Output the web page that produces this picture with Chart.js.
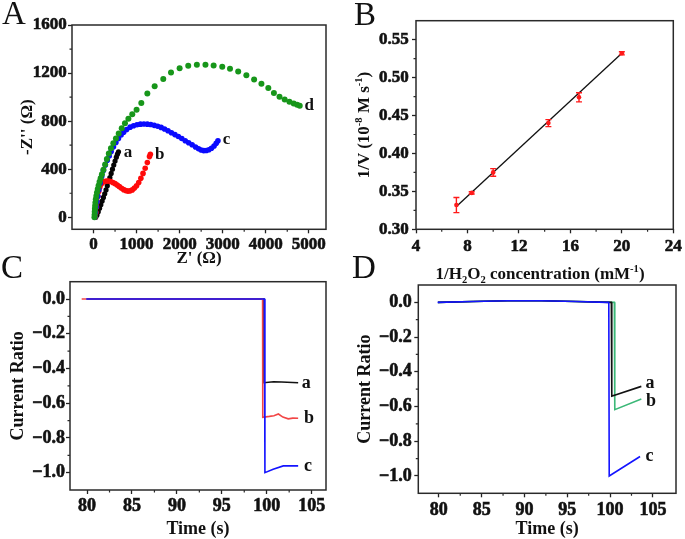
<!DOCTYPE html>
<html>
<head>
<meta charset="utf-8">
<script src="https://cdn.jsdelivr.net/npm/chart.js@4.4.1/dist/chart.umd.min.js"></script>
<style>
  body { margin: 0; background: #fff; }
  #page { position: relative; width: 685px; height: 539px; overflow: hidden; font-family: "Liberation Serif", "Times New Roman", serif; color: #111; }
  .box { position: absolute; }
  .letter { position: absolute; font-size: 33px; line-height: 1; font-weight: normal; }
  .ttl { position: absolute; font-size: 17px; font-weight: bold; line-height: 1; white-space: nowrap; transform: translate(-50%, -50%); }
  .ttl sup, .ttl sub { font-size: 0.62em; line-height: 0; }
  .rot { transform: translate(-50%, -50%) rotate(-90deg); }
</style>
</head>
<body>
<div id="page">
  <div class="box" style="left:0;top:0"><canvas id="chartA" width="340" height="270"></canvas></div>
  <div class="box" style="left:340px;top:0"><canvas id="chartB" width="345" height="262"></canvas></div>
  <div class="box" style="left:0;top:262px"><canvas id="chartC" width="340" height="277"></canvas></div>
  <div class="box" style="left:340px;top:262px"><canvas id="chartD" width="345" height="277"></canvas></div>

  <div class="letter" style="left:2px;top:-3px">A</div>
  <div class="letter" style="left:354px;top:-2px">B</div>
  <div class="letter" style="left:1px;top:251px">C</div>
  <div class="letter" style="left:352px;top:251px">D</div>

  <div class="ttl rot" style="left:363px;top:125px">1/V (10<sup>-8</sup> M s<sup>-1</sup>)</div>
  <div class="ttl" style="left:540px;top:273px">1/H<sub>2</sub>O<sub>2</sub> concentration (mM<sup>-1</sup>)</div>
</div>

<script>
// ==== Panel A: Nyquist plots ====
const A_X_TICKS = [0, 1000, 2000, 3000, 4000, 5000];
const A_Y_TICKS = [0, 400, 800, 1200, 1600];
const A_X_MINOR = [500, 1500, 2500, 3500, 4500];
const A_Y_MINOR = [200, 600, 1000, 1400];

const A_a_X = [50, 80, 110, 140, 170, 200, 230, 260, 290, 320, 350, 380, 410, 440, 470, 500, 530, 555, 580];
const A_a_Y = [0, 20, 45, 75, 105, 135, 165, 195, 228, 262, 296, 330, 365, 400, 435, 468, 500, 525, 545];

const A_b_X = [40, 55, 70, 85, 100, 120, 145, 175, 210, 250, 300, 350, 400, 450, 500, 550, 600, 650, 700, 750,
               800, 850, 900, 950, 1000, 1050, 1100, 1150, 1200, 1250, 1300, 1320];
const A_b_Y = [0, 40, 85, 130, 175, 215, 250, 275, 290, 298, 302, 302, 298, 290, 280, 268, 255, 242, 230, 222,
               218, 220, 228, 243, 262, 290, 325, 365, 408, 455, 505, 525];

const A_c_X = [30, 45, 60, 80, 100, 125, 155, 190, 230, 275, 320, 365, 410, 463, 520, 579, 640, 700, 770, 850,
               930, 1010, 1090, 1170, 1250, 1330, 1410, 1490, 1570, 1650, 1730, 1810, 1890, 1970, 2050, 2130,
               2210, 2290, 2370, 2440, 2500, 2560, 2620, 2680, 2740, 2800, 2850, 2890];
const A_c_Y = [0, 40, 85, 130, 175, 230, 285, 340, 390, 435, 475, 510, 548, 586, 622, 656, 685, 708, 730, 750,
               762, 770, 775, 776, 775, 772, 765, 757, 748, 735, 720, 703, 688, 672, 655, 637,
               620, 603, 585, 570, 560, 555, 556, 562, 575, 593, 615, 637];

const A_d_X = [22, 25, 28, 32, 37, 44, 53, 65, 80, 98, 118, 140, 165, 195, 230, 270, 310, 355, 405, 460,
               520, 585, 655, 730, 810, 900, 1000, 1110, 1250, 1420, 1620, 1800, 2000, 2200, 2400, 2600,
               2790, 2990, 3170, 3360, 3550, 3730, 3900, 4060, 4190, 4320, 4440, 4550, 4650, 4730, 4790];
const A_d_Y = [0, 22, 45, 70, 95, 122, 150, 178, 207, 236, 265, 295, 325, 358, 395, 440, 485, 530, 575, 615,
               655, 698, 740, 782, 820, 858, 895, 950, 1030, 1090, 1150, 1205, 1240, 1260, 1270, 1270,
               1263, 1252, 1236, 1213, 1181, 1147, 1111, 1075, 1035, 1003, 980, 962, 947, 936, 928];

// ==== Panel B: Lineweaver-Burk ====
const B_X_TICKS = [4, 8, 12, 16, 20, 24];
const B_Y_TICKS = [0.30, 0.35, 0.40, 0.45, 0.50, 0.55];
const B_X_MINOR = [6, 10, 14, 18, 22];
const B_Y_MINOR = [0.325, 0.375, 0.425, 0.475, 0.525];
const B_X = [7.14, 8.33, 10.0, 14.29, 16.67, 20.0];
const B_Y = [0.332, 0.348, 0.375, 0.440, 0.474, 0.532];
const B_ERR = [0.010, 0.0015, 0.005, 0.0046, 0.006, 0.002];
const B_FIT_X = [7.14, 20.0];
const B_FIT_Y = [0.330, 0.532];

// ==== Panels C, D: current ratio vs time ====
const T_X_TICKS = [80, 85, 90, 95, 100, 105];
const T_Y_TICKS = [0.0, -0.2, -0.4, -0.6, -0.8, -1.0];
const T_X_MINOR = [82.5, 87.5, 92.5, 97.5, 102.5];
const T_Y_MINOR = [-0.1, -0.3, -0.5, -0.7, -0.9];

const C_a_X = [80, 99.69, 99.7, 100.76, 101.66, 103.5];
const C_a_Y = [0, 0, -0.482, -0.476, -0.478, -0.482];
const C_b_X = [79.4, 99.54, 99.56, 100.3, 100.8, 101.3, 101.8, 102.4, 102.9, 103.5];
const C_b_Y = [0, 0, -0.681, -0.676, -0.672, -0.662, -0.68, -0.69, -0.686, -0.687];
const C_c_X = [79.9, 99.75, 99.8, 100.72, 101.84, 103.5];
const C_c_Y = [0, 0, -1.0, -0.98, -0.961, -0.961];

const D_a_X = [79.9, 84, 88, 92, 96, 100.15, 100.2, 100.7, 103.65];
const D_a_Y = [0, 0.005, 0.009, 0.009, 0.005, 0, -0.54, -0.532, -0.484];
const D_b_X = [79.9, 84, 88, 92, 96, 100.5, 100.55, 103.65];
const D_b_Y = [0, 0.005, 0.009, 0.009, 0.005, 0, -0.618, -0.557];
const D_c_X = [79.85, 84, 88, 92, 96, 99.6, 99.85, 99.9, 103.5];
const D_c_Y = [0, 0.005, 0.009, 0.009, 0.005, 0, 0, -1.0, -0.888];

const SERIF = '"Liberation Serif", "Times New Roman", serif';
Chart.defaults.font.family = SERIF;
Chart.defaults.font.weight = "bold";
Chart.defaults.color = "#111";
Chart.defaults.animation = false;

function toXY(xs, ys) {
  return xs.map((x, i) => ({ x: x, y: ys[i] }));
}

function minus(v, digits) {
  const s = Math.abs(v).toFixed(digits);
  return v < -1e-9 ? "\u2212" + s : s;
}

// linear axis with fixed ticks and fixed box size
function axis(o) {
  return {
    type: "linear",
    min: o.min,
    max: o.max,
    afterBuildTicks: s => { s.ticks = o.ticks.map(v => ({ value: v })); },
    afterFit: s => { if (s.isHorizontal()) s.height = o.size; else s.width = o.size; },
    grid: { display: true, drawOnChartArea: false, drawTicks: true, tickLength: 4, tickColor: "#222", tickWidth: 1.3 },
    border: { display: false },
    ticks: {
      padding: o.pad,
      autoSkip: false,
      maxRotation: 0,
      font: { size: o.font, weight: "bold" },
      color: "#111",
      textStrokeColor: "#111",
      textStrokeWidth: 0.6,
      callback: o.fmt || (v => String(v))
    },
    title: o.title
      ? { display: true, text: o.title, color: "#111", font: { size: o.titleSize, weight: "bold" }, padding: o.titlePad }
      : { display: false }
  };
}

// frame, minor ticks, curve labels, error bars
function deco(cfg) {
  return {
    id: "deco",
    afterDatasetsDraw(chart) {
      if (!cfg.errors) return;
      const { ctx, scales: { x, y } } = chart;
      ctx.save();
      ctx.strokeStyle = cfg.errors.color;
      ctx.lineWidth = 1.4;
      cfg.errors.xs.forEach((xv, i) => {
        const px = x.getPixelForValue(xv);
        const y1 = y.getPixelForValue(cfg.errors.ys[i] - cfg.errors.err[i]);
        const y2 = y.getPixelForValue(cfg.errors.ys[i] + cfg.errors.err[i]);
        ctx.beginPath();
        ctx.moveTo(px, y1); ctx.lineTo(px, y2);
        ctx.moveTo(px - 3, y1); ctx.lineTo(px + 3, y1);
        ctx.moveTo(px - 3, y2); ctx.lineTo(px + 3, y2);
        ctx.stroke();
      });
      ctx.restore();
    },
    afterDraw(chart) {
      const { ctx, chartArea: ca, scales: { x, y } } = chart;
      ctx.save();
      ctx.strokeStyle = "#2a2a2a";
      ctx.lineWidth = 1.5;
      ctx.strokeRect(ca.left, ca.top, ca.right - ca.left, ca.bottom - ca.top);
      ctx.lineWidth = 1.2;
      ctx.beginPath();
      (cfg.minorX || []).forEach(v => {
        const px = x.getPixelForValue(v);
        ctx.moveTo(px, ca.bottom); ctx.lineTo(px, ca.bottom + 2.5);
      });
      (cfg.minorY || []).forEach(v => {
        const py = y.getPixelForValue(v);
        ctx.moveTo(ca.left, py); ctx.lineTo(ca.left - 2.5, py);
      });
      ctx.stroke();
      ctx.fillStyle = "#111";
      ctx.font = "bold " + (cfg.labelSize || 17) + "px " + SERIF;
      ctx.textAlign = "left";
      ctx.textBaseline = "middle";
      (cfg.labels || []).forEach(l => {
        ctx.fillText(l.text, x.getPixelForValue(l.x), y.getPixelForValue(l.y));
      });
      ctx.restore();
    }
  };
}

const commonPlugins = { legend: { display: false }, tooltip: { enabled: false } };

function dots(xs, ys, color, r) {
  return { data: toXY(xs, ys), backgroundColor: color, borderColor: color, pointRadius: r, pointBorderWidth: 0, showLine: false };
}
function trace(xs, ys, color) {
  return { data: toXY(xs, ys), borderColor: color, backgroundColor: color, borderWidth: 1.6, pointRadius: 0, showLine: true, tension: 0 };
}

// ---- A ----
new Chart(document.getElementById("chartA"), {
  type: "scatter",
  data: {
    datasets: [
      dots(A_d_X, A_d_Y, "#17961a", 3),
      dots(A_c_X, A_c_Y, "#0a0aff", 2.8),
      dots(A_b_X, A_b_Y, "#ff0a0a", 2.8),
      dots(A_a_X, A_a_Y, "#050505", 2.6)
    ]
  },
  options: {
    responsive: false,
    layout: { padding: { top: 25, right: 14, bottom: 0, left: 0 } },
    plugins: commonPlugins,
    scales: {
      x: axis({ min: -500, max: 5400, ticks: A_X_TICKS, size: 40.7, pad: 1.5, font: 17,
                title: "Z' (\u03A9)", titleSize: 17, titlePad: { top: 0, bottom: 1.2 } }),
      y: axis({ min: -100, max: 1600, ticks: A_Y_TICKS, size: 72, pad: 1.3, font: 17,
                title: "-Z'' (\u03A9)", titleSize: 17, titlePad: { top: 17.8, bottom: 0 } })
    }
  },
  plugins: [deco({
    minorX: A_X_MINOR, minorY: A_Y_MINOR, labelSize: 17,
    labels: [
      { text: "a", x: 700, y: 540 },
      { text: "b", x: 1430, y: 525 },
      { text: "c", x: 3000, y: 645 },
      { text: "d", x: 4900, y: 930 }
    ]
  })]
});

// ---- B ----
new Chart(document.getElementById("chartB"), {
  type: "scatter",
  data: {
    datasets: [
      dots(B_X, B_Y, "#ff1a1a", 2.3),
      { data: toXY(B_FIT_X, B_FIT_Y), borderColor: "#111", borderWidth: 1.3, pointRadius: 0, showLine: true }
    ]
  },
  options: {
    responsive: false,
    layout: { padding: { top: 20.7, right: 10, bottom: 0, left: 0 } },
    plugins: commonPlugins,
    scales: {
      x: axis({ min: 4, max: 24, ticks: B_X_TICKS, size: 32.7, pad: 3.2, font: 17 }),
      y: axis({ min: 0.30, max: 0.575, ticks: B_Y_TICKS, size: 76, pad: 3.2, font: 17, fmt: v => v.toFixed(2) })
    }
  },
  plugins: [deco({
    minorX: B_X_MINOR, minorY: B_Y_MINOR,
    errors: { xs: B_X, ys: B_Y, err: B_ERR, color: "#ff1a1a" }
  })]
});

// ---- C ----
new Chart(document.getElementById("chartC"), {
  type: "scatter",
  data: {
    datasets: [
      trace(C_c_X, C_c_Y, "#1414ff"),
      trace(C_b_X, C_b_Y, "#f24646"),
      trace(C_a_X, C_a_Y, "#111111")
    ]
  },
  options: {
    responsive: false,
    layout: { padding: { top: 19.7, right: 14, bottom: 0, left: 0 } },
    plugins: commonPlugins,
    scales: {
      x: axis({ min: 78.1, max: 106.6, ticks: T_X_TICKS, size: 49, pad: 1.9, font: 18,
                title: "Time (s)", titleSize: 18, titlePad: { top: 0, bottom: -1.5 } }),
      y: axis({ min: -1.1, max: 0.1, ticks: T_Y_TICKS, size: 70, pad: 1, font: 18, fmt: v => minus(v, 1),
                title: "Current Ratio", titleSize: 18, titlePad: { top: 7.5, bottom: 0 } })
    }
  },
  plugins: [deco({
    minorX: T_X_MINOR, minorY: T_Y_MINOR, labelSize: 18,
    labels: [
      { text: "a", x: 103.9, y: -0.486 },
      { text: "b", x: 104.15, y: -0.687 },
      { text: "c", x: 104.15, y: -0.965 }
    ]
  })]
});

// ---- D ----
new Chart(document.getElementById("chartD"), {
  type: "scatter",
  data: {
    datasets: [
      trace(D_c_X, D_c_Y, "#1414ff"),
      trace(D_a_X, D_a_Y, "#111111"),
      trace(D_b_X, D_b_Y, "#3cb878")
    ]
  },
  options: {
    responsive: false,
    layout: { padding: { top: 23, right: 9, bottom: 0, left: 0 } },
    plugins: commonPlugins,
    scales: {
      x: axis({ min: 77.6, max: 107.7, ticks: T_X_TICKS, size: 45.7, pad: 1.9, font: 18,
                title: "Time (s)", titleSize: 18, titlePad: { top: 0, bottom: -1.5 } }),
      y: axis({ min: -1.1, max: 0.1, ticks: T_Y_TICKS, size: 78.3, pad: 2.6, font: 18, fmt: v => minus(v, 1),
                title: "Current Ratio", titleSize: 18, titlePad: { top: 14.2, bottom: 0 } })
    }
  },
  plugins: [deco({
    minorX: T_X_MINOR, minorY: T_Y_MINOR, labelSize: 18,
    labels: [
      { text: "a", x: 104.15, y: -0.464 },
      { text: "b", x: 104.2, y: -0.570 },
      { text: "c", x: 104.15, y: -0.888 }
    ]
  })]
});
</script>
</body>
</html>
